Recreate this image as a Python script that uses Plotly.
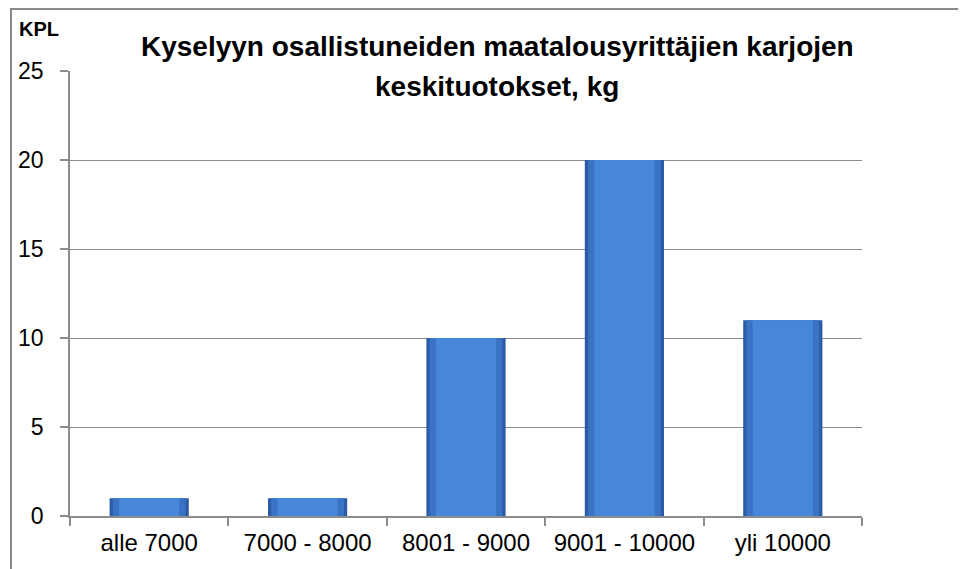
import plotly.graph_objects as go

categories = ["alle 7000", "7000 - 8000", "8001 - 9000", "9001 - 10000", "yli 10000"]
values = [1, 1, 10, 20, 11]
y_ticks = [0, 5, 10, 15, 20, 25]
title_lines = ["Kyselyyn osallistuneiden maatalousyrittäjien karjojen", "keskituotokset, kg"]
y_label = "KPL"

W, H = 966, 569
OFF = 8  # page body margin
# plot area in page pixels: x 70..862, y 71..516
L, T = 70 - OFF, 71 - OFF
R, B = W - (862 - OFF), H - (516 - OFF)
pw, ph = W - L - R, H - T - B

def px_x(x):
    return (x - OFF - L) / pw

def px_y(y):
    return (H - B - (y - OFF)) / ph

fig = go.Figure()
for w, c in [(0.5, "#2b5aa6"), (0.46, "#3a72c4"), (0.38, "#4787d9")]:
    fig.add_trace(go.Bar(
        x=categories, y=values, width=w,
        marker=dict(color=c, line=dict(width=0)),
        hoverinfo="skip", showlegend=False,
    ))

axis_gray = "#8c8c8c"
annotations = [
    dict(text="<b>" + title_lines[0] + "</b>", xref="paper", yref="paper",
         x=px_x(497), y=px_y(47), xanchor="center", yanchor="middle",
         showarrow=False, font=dict(size=28)),
    dict(text="<b>" + title_lines[1] + "</b>", xref="paper", yref="paper",
         x=px_x(497), y=px_y(87), xanchor="center", yanchor="middle",
         showarrow=False, font=dict(size=28)),
    dict(text="<b>" + y_label + "</b>", xref="paper", yref="paper",
         x=px_x(17), y=px_y(29), xanchor="left", yanchor="middle",
         showarrow=False, font=dict(size=20)),
]

fig.update_layout(
    width=W, height=H,
    margin=dict(l=L, r=R, t=T, b=B, autoexpand=False),
    paper_bgcolor="white", plot_bgcolor="white",
    barmode="overlay",
    font=dict(family="Liberation Sans, Arial, sans-serif", color="black"),
    xaxis=dict(
        type="category", tickson="boundaries", ticks="outside", ticklen=8,
        tickcolor=axis_gray, tickwidth=1.5, showline=True, linecolor=axis_gray,
        linewidth=1.5, showgrid=False, tickfont=dict(size=24),
        ticklabelstandoff=4, range=[-0.5, 4.5],
    ),
    yaxis=dict(
        range=[0, 25], tickvals=y_ticks, ticks="outside", ticklen=8,
        tickcolor=axis_gray, tickwidth=1.5, showline=True, linecolor=axis_gray,
        linewidth=1.5, showgrid=True, gridcolor=axis_gray, gridwidth=1.3,
        zeroline=False, tickfont=dict(size=23), ticklabelstandoff=12,
    ),
    shapes=[
        dict(type="rect", xref="paper", yref="paper",
             x0=px_x(11), x1=px_x(1000), y0=px_y(620), y1=px_y(9),
             line=dict(color="#8a8a8a", width=2), fillcolor="rgba(0,0,0,0)",
             layer="below"),
    ],
    annotations=annotations,
)

fig.write_html("out.html")
